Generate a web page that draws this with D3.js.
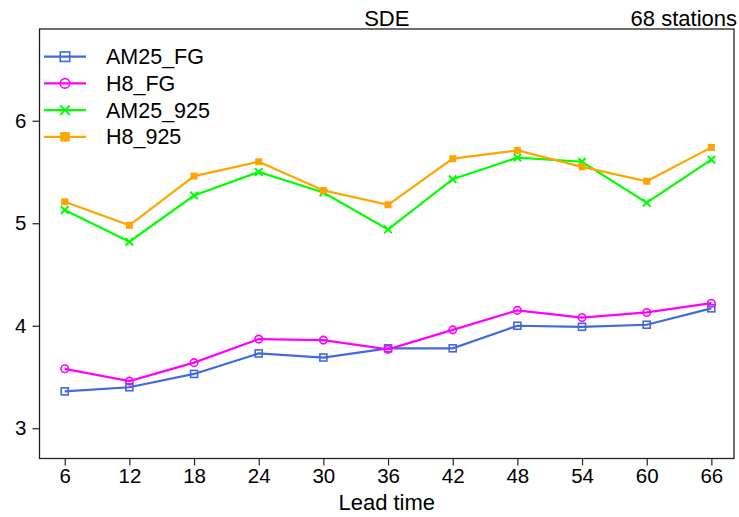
<!DOCTYPE html>
<html><head><meta charset="utf-8">
<script src="https://cdn.jsdelivr.net/npm/d3@7"></script>
<style>body{margin:0;background:#fff}text{font-family:"Liberation Sans",Arial,sans-serif}</style>
</head><body><svg id="c" width="739" height="517"></svg>
<script>
const leadTimes = [6,12,18,24,30,36,42,48,54,60,66];
const am25FG  = [3.36,3.40,3.53,3.73,3.69,3.78,3.78,4.00,3.99,4.01,4.17];
const h8FG    = [3.58,3.46,3.64,3.87,3.86,3.77,3.96,4.15,4.08,4.13,4.22];
const am25925 = [5.13,4.82,5.27,5.50,5.30,4.94,5.43,5.64,5.60,5.20,5.62];
const h8925   = [5.21,4.98,5.46,5.60,5.32,5.18,5.63,5.71,5.55,5.41,5.74];
const yTicks = [3,4,5,6];
const seriesNames = ["AM25_FG","H8_FG","AM25_925","H8_925"];
const seriesColors = ["#4169E1","#FF00FF","#00FF00","#FFA500"];
const seriesShapes = ["square","circle","cross","filledsquare"];
const seriesVals = [am25FG,h8FG,am25925,h8925];

const svg = d3.select("#c");
const L=39.5, R=734, T=29, B=458.5;
const x = d3.scaleLinear().domain([3.66,68.1]).range([L,R]);
const y = d3.scaleLinear().domain([2.705,6.895]).range([B,T]);
const fsTick = 20.5, fsLab = 22, fsLeg = 21.5;

function marker(g, shape, color, s){
  if(shape==="square") g.append("rect").attr("x",-s/2).attr("y",-s/2).attr("width",s).attr("height",s).attr("fill","none").attr("stroke",color).attr("stroke-width",1.6);
  else if(shape==="filledsquare") g.append("rect").attr("x",-s/2).attr("y",-s/2).attr("width",s).attr("height",s).attr("fill",color);
  else if(shape==="circle") g.append("circle").attr("r",s/2).attr("fill","none").attr("stroke",color).attr("stroke-width",1.6);
  else if(shape==="cross") g.append("path").attr("d",`M${-s/2},${-s/2}L${s/2},${s/2}M${-s/2},${s/2}L${s/2},${-s/2}`).attr("stroke",color).attr("stroke-width",2);
}

// series
seriesVals.forEach((vals,i)=>{
  const data = leadTimes.map((t,j)=>[t,vals[j]]);
  svg.append("path").datum(data)
    .attr("d", d3.line().x(d=>x(d[0])).y(d=>y(d[1])))
    .attr("fill","none").attr("stroke",seriesColors[i]).attr("stroke-width",2.2);
  data.forEach(d=>{
    const g = svg.append("g").attr("transform",`translate(${x(d[0])},${y(d[1])})`);
    marker(g, seriesShapes[i], seriesColors[i], seriesShapes[i]==="circle"?7.5:(seriesShapes[i]==="cross"?7.5:7));
  });
});

// frame
svg.append("rect").attr("x",L).attr("y",T).attr("width",R-L).attr("height",B-T)
  .attr("fill","none").attr("stroke","#222").attr("stroke-width",1.3);

// axes
const xAxis = d3.axisBottom(x).tickValues(leadTimes).tickSize(7).tickSizeOuter(0).tickPadding(3);
const gx = svg.append("g").attr("transform",`translate(0,${B})`).call(xAxis);
gx.select(".domain").remove();
gx.selectAll("line").attr("stroke","#222").attr("stroke-width",1.2);
gx.selectAll("text").attr("font-size",fsTick).attr("fill","#000").attr("font-family","Liberation Sans, Arial, sans-serif");

const yAxis = d3.axisLeft(y).tickValues(yTicks).tickFormat(d3.format("d")).tickSize(7).tickSizeOuter(0).tickPadding(6);
const gy = svg.append("g").attr("transform",`translate(${L},0)`).call(yAxis);
gy.select(".domain").remove();
gy.selectAll("line").attr("stroke","#222").attr("stroke-width",1.2);
gy.selectAll("text").attr("font-size",fsTick).attr("fill","#000").attr("font-family","Liberation Sans, Arial, sans-serif");

// titles
svg.append("text").attr("x",(L+R)/2).attr("y",26).attr("text-anchor","middle").attr("font-size",fsLab).text("SDE");
svg.append("text").attr("x",737).attr("y",26).attr("text-anchor","end").attr("font-size",fsLab).text("68 stations");
svg.append("text").attr("x",(L+R)/2).attr("y",510).attr("text-anchor","middle").attr("font-size",fsLab).text("Lead time");

// legend
const legY0 = 56.7, legDy = 26.7;
seriesNames.forEach((n,i)=>{
  const yy = legY0 + i*legDy;
  svg.append("line").attr("x1",44).attr("x2",86).attr("y1",yy).attr("y2",yy).attr("stroke",seriesColors[i]).attr("stroke-width",2.2);
  const g = svg.append("g").attr("transform",`translate(65,${yy})`);
  marker(g, seriesShapes[i], seriesColors[i], 9.5);
  svg.append("text").attr("x",106).attr("y",yy+7.5).attr("font-size",fsLeg).text(n);
});
</script></body></html>
